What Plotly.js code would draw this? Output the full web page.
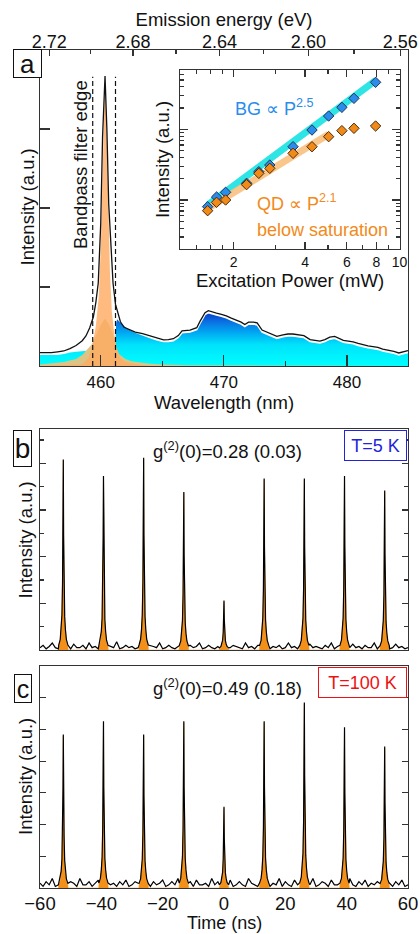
<!DOCTYPE html>
<html><head><meta charset="utf-8">
<script src="https://cdn.plot.ly/plotly-3.0.1.min.js"></script>
<style>html,body{margin:0;padding:0;background:#fff}#chart{width:420px;height:934px}</style>
</head><body><div id="chart"></div>
<script>
// ---------- Panel a: spectrum ----------
const wlRange = [455.07, 484.95];
const wlBG = [455.07,455.5,456,456.5,457,457.5,458,458.5,459,459.3,460,461.1,461.2,461.3,461.6,462.2,462.8,463.4,464.0,464.6,465.1,465.5,465.9,466.3,466.6,467.25,467.8,468.06,468.47,468.74,469.0,469.4,469.8,470.2,470.6,471.0,471.4,471.7,472.0,472.4,472.7,473.1,473.75,474.3,474.8,475.2,475.6,476.0,476.5,477.0,477.4,477.8,478.2,478.6,479.0,479.3,479.7,480.1,480.5,480.9,481.3,481.7,482.1,482.5,482.9,483.3,483.8,484.2,484.6,484.95];
const bgVal = [0.15,0.15,0.15,0.15,0.16,0.18,0.19,0.20,0.21,0.21,0.20,0.20,0.55,0.61,0.56,0.48,0.43,0.39,0.36,0.33,0.31,0.31,0.32,0.36,0.42,0.43,0.46,0.54,0.65,0.675,0.66,0.645,0.63,0.61,0.58,0.56,0.53,0.50,0.53,0.53,0.52,0.43,0.39,0.35,0.37,0.38,0.38,0.37,0.36,0.31,0.30,0.29,0.31,0.34,0.35,0.33,0.30,0.29,0.28,0.26,0.24,0.23,0.22,0.21,0.19,0.18,0.16,0.14,0.16,0.17];
const wlTot = [455.07,455.5,456,456.5,457,457.5,458,458.5,458.8,459.1,459.4,459.6,459.8,460.0,460.15,460.35,460.5,460.65,460.85,461.0,461.2,461.4,461.6,461.9,462.3,462.8,463.4,464.0,464.6,465.1,
  465.5,465.9,466.3,466.6,467.25,467.8,468.06,468.47,468.74,469.0,469.4,469.8,470.2,470.6,471.0,471.4,471.7,472.0,472.4,472.7,473.1,473.75,474.3,474.8,475.2,475.6,476.0,476.5,477.0,477.4,477.8,478.2,478.6,479.0,479.3,479.7,480.1,480.5,480.9,481.3,481.7,482.1,482.5,482.9,483.3,483.8,484.2,484.6,484.95];
const totVal = [0.17,0.17,0.17,0.18,0.19,0.22,0.26,0.32,0.38,0.48,0.62,0.80,1.05,1.8,2.9,3.67,3.0,2.05,1.4,1.05,0.78,0.66,0.56,0.49,0.46,0.43,0.41,0.38,0.35,0.33,
  0.335,0.345,0.385,0.445,0.455,0.485,0.565,0.675,0.70,0.685,0.67,0.655,0.635,0.605,0.585,0.555,0.525,0.555,0.555,0.545,0.455,0.415,0.375,0.395,0.405,0.405,0.395,0.385,0.335,0.325,0.315,0.335,0.365,0.375,0.355,0.325,0.315,0.305,0.285,0.265,0.255,0.245,0.235,0.215,0.205,0.185,0.165,0.185,0.195];
const wlTan = [455.07,456,457,457.5,458,458.5,459,459.3,459.6,460.0,460.35,460.7,461.0,461.2,461.5,462,462.5,463,464,465,467,484.95];
const tanVal = [0.02,0.03,0.05,0.07,0.09,0.14,0.22,0.28,0.38,0.52,0.6,0.52,0.4,0.25,0.15,0.09,0.06,0.05,0.03,0.02,0.01,0];
const wlQD = [455.07,458.5,459.0,459.3,459.6,459.85,460.0,460.15,460.3,460.35,460.45,460.6,460.75,460.9,461.1,461.3,461.6,462,463,464,484.95];
const qdVal = [0,0.02,0.1,0.25,0.5,0.9,1.5,2.6,3.55,3.63,3.2,2.2,1.2,0.7,0.4,0.22,0.1,0.05,0.02,0,0];
const filterEdges = [459.35, 461.2];
const filterTop = 3.66;
const energyTicks = [2.72, 2.68, 2.64, 2.60, 2.56];
const energyMinor = [2.70, 2.66, 2.62, 2.58];

// ---------- Panel a inset: power dependence ----------
const powerMW = [1.556,1.697,1.852,2.27,2.556,2.843,3.562,4.28,5.03,5.72,6.43,7.93];
const bgInt = [0.804,1.102,1.285,1.722,2.512,3.126,5.675,9.772,15.42,20.46,27.42,46.24];
const qdInt = [0.706,0.927,1.0,1.648,2.382,2.805,4.571,5.675,7.870,9.572,10.33,11.14];
const bgFitP = [1.556, 7.93], bgFitI = [0.851, 49.0];
const qdFitP = [1.556, 5.03], qdFitI = [0.76, 8.5];

// ---------- Panels b, c: g2 histograms ----------
const peakCenters = [-52.4,-39.3,-26.2,-13.1,0,13.1,26.2,39.3,52.4];
const peakHeightsB = [8.12,7.41,8.19,6.72,2.07,7.3,7.3,7.41,6.79];
const peakHeightsC = [4.79,5.21,4.79,5.21,2.51,5.21,5.80,5.02,4.41];
const profOffset = [-1.5,-1,-0.7,-0.45,-0.25,-0.1,0,0.1,0.25,0.45,0.7,1,1.5];
const profRel = [0.02,0.05,0.1,0.18,0.35,0.65,1,0.6,0.33,0.17,0.1,0.05,0.02];
const noiseStart = -60; // ns, 1 ns bins
const noiseB = [0.1,0.2,0.05,0.15,0.3,0.1,0.05,0.2,0.1,0.15,0.05,0.25,0.1,0.1,0.2,0.05,0.3,0.1,0.15,0.05,
0.2,0.1,0.05,0.15,0.1,0.35,0.05,0.1,0.2,0.1,0.15,0.05,0.1,0.25,0.1,0.05,0.2,0.15,0.1,0.3,
0.05,0.1,0.2,0.1,0.05,0.15,0.25,0.1,0.05,0.2,0.1,0.15,0.3,0.05,0.1,0.2,0.1,0.05,0.15,0.1,
0.25,0.05,0.1,0.2,0.15,0.1,0.05,0.3,0.1,0.15,0.05,0.2,0.1,0.1,0.25,0.05,0.15,0.1,0.2,0.05,
0.1,0.3,0.1,0.15,0.05,0.2,0.1,0.05,0.25,0.1,0.15,0.1,0.05,0.2,0.1,0.3,0.05,0.15,0.1,0.2,
0.05,0.1,0.25,0.1,0.15,0.05,0.2,0.1,0.1,0.3,0.05,0.15,0.1,0.2,0.05,0.1,0.25,0.1,0.15,0.05,0.1];
const noiseC = [0.15,0.05,0.2,0.1,0.3,0.05,0.1,0.25,0.1,0.05,0.2,0.15,0.05,0.3,0.1,0.1,0.2,0.05,0.15,0.25,
0.1,0.05,0.3,0.1,0.15,0.05,0.2,0.1,0.25,0.05,0.1,0.2,0.15,0.05,0.3,0.1,0.05,0.2,0.1,0.15,
0.25,0.05,0.1,0.2,0.1,0.3,0.05,0.15,0.1,0.2,0.05,0.25,0.1,0.1,0.15,0.05,0.3,0.1,0.2,0.05,
0.1,0.15,0.25,0.05,0.1,0.2,0.1,0.05,0.3,0.15,0.1,0.05,0.2,0.25,0.1,0.05,0.15,0.1,0.3,0.05,
0.2,0.1,0.05,0.25,0.1,0.15,0.05,0.2,0.1,0.3,0.05,0.1,0.2,0.15,0.05,0.25,0.1,0.1,0.2,0.05,
0.15,0.3,0.1,0.05,0.2,0.1,0.25,0.05,0.15,0.1,0.2,0.05,0.3,0.1,0.15,0.05,0.2,0.1,0.25,0.05,0.1];

function buildHist(heights, noise) {
  const pts = [];
  noise.forEach((v, i) => {
    const t = noiseStart + i;
    if (!peakCenters.some(c => Math.abs(t - c) < 1.6)) pts.push([t, v]);
  });
  const fit = [];
  peakCenters.forEach((c, k) => {
    fit.push([c + profOffset[0] - 0.05, 0]);
    profOffset.forEach((o, j) => {
      pts.push([c + o, heights[k] * profRel[j] + 0.05]);
      fit.push([c + o, heights[k] * profRel[j]]);
    });
    fit.push([c + profOffset[profOffset.length - 1] + 0.05, 0]);
  });
  pts.sort((a, b) => a[0] - b[0]);
  return {tx: pts.map(p => p[0]), ty: pts.map(p => p[1]), fx: fit.map(p => p[0]), fy: fit.map(p => p[1])};
}
const hB = buildHist(peakHeightsB, noiseB);
const hC = buildHist(peakHeightsC, noiseC);

const FONT = 'Liberation Sans, Arial, sans-serif';
const LC = '#333';
const ORANGE = '#f39019';

const traces = [
  {x: wlBG, y: bgVal, xaxis: 'x', yaxis: 'y', type: 'scatter', mode: 'lines', fill: 'tozeroy',
   line: {color: '#ffffff', width: 1.5},
   fillgradient: {type: 'vertical', start: 0, stop: 0.68,
     colorscale: [[0, '#00ffff'], [0.4, '#00e2fb'], [0.62, '#00a8f2'], [0.82, '#0a72e2'], [1, '#0a38c8']]},
   hoverinfo: 'skip', showlegend: false},
  {x: wlTan, y: tanVal, xaxis: 'x', yaxis: 'y', type: 'scatter', mode: 'lines', fill: 'tozeroy',
   line: {color: 'rgba(0,0,0,0)', width: 0}, fillcolor: '#dcc487', hoverinfo: 'skip', showlegend: false},
  {x: wlQD, y: qdVal, xaxis: 'x', yaxis: 'y', type: 'scatter', mode: 'lines', fill: 'tozeroy',
   line: {color: 'rgba(0,0,0,0)', width: 0}, fillcolor: 'rgba(255,170,95,0.8)', hoverinfo: 'skip', showlegend: false},
  {x: wlTot, y: totVal, xaxis: 'x', yaxis: 'y', type: 'scatter', mode: 'lines',
   line: {color: '#111', width: 1.3}, hoverinfo: 'skip', showlegend: false},
  {x: [filterEdges[0], filterEdges[0], null, filterEdges[1], filterEdges[1]],
   y: [0, filterTop, null, 0, filterTop], xaxis: 'x2', yaxis: 'y', type: 'scatter', mode: 'lines',
   line: {color: '#111', width: 1.2, dash: '5px,3px'}, hoverinfo: 'skip', showlegend: false},
  // inset
  {x: bgFitP, y: bgFitI, xaxis: 'x3', yaxis: 'y3', type: 'scatter', mode: 'lines',
   line: {color: '#2ee4e4', width: 7}, hoverinfo: 'skip', showlegend: false},
  {x: qdFitP, y: qdFitI, xaxis: 'x3', yaxis: 'y3', type: 'scatter', mode: 'lines',
   line: {color: 'rgba(248,192,128,0.9)', width: 7}, hoverinfo: 'skip', showlegend: false},
  {x: powerMW, y: bgInt, xaxis: 'x3', yaxis: 'y3', type: 'scatter', mode: 'markers',
   marker: {symbol: 'diamond', size: 8, color: '#2a8cec', line: {color: '#23364f', width: 1}}, hoverinfo: 'skip', showlegend: false},
  {x: powerMW, y: qdInt, xaxis: 'x3', yaxis: 'y3', type: 'scatter', mode: 'markers',
   marker: {symbol: 'diamond', size: 8, color: '#f28a1a', line: {color: '#4a2a08', width: 1}}, hoverinfo: 'skip', showlegend: false},
  // panel b
  {x: hB.fx, y: hB.fy, xaxis: 'x4', yaxis: 'y4', type: 'scatter', mode: 'lines', fill: 'tozeroy',
   line: {color: ORANGE, width: 0.5}, fillcolor: ORANGE, hoverinfo: 'skip', showlegend: false},
  {x: hB.tx, y: hB.ty, xaxis: 'x4', yaxis: 'y4', type: 'scatter', mode: 'lines',
   line: {color: '#000', width: 1.2}, hoverinfo: 'skip', showlegend: false},
  // panel c
  {x: hC.fx, y: hC.fy, xaxis: 'x5', yaxis: 'y5', type: 'scatter', mode: 'lines', fill: 'tozeroy',
   line: {color: ORANGE, width: 0.5}, fillcolor: ORANGE, hoverinfo: 'skip', showlegend: false},
  {x: hC.tx, y: hC.ty, xaxis: 'x5', yaxis: 'y5', type: 'scatter', mode: 'lines',
   line: {color: '#000', width: 1.2}, hoverinfo: 'skip', showlegend: false}
];

const W = 420, H = 934;
const px = v => v / W, py = v => 1 - v / H;
const AX = {showline: true, linecolor: LC, linewidth: 1.3, tickcolor: LC, tickwidth: 1.2,
  zeroline: false, showgrid: false, ticks: 'inside', automargin: false};
const TF = s => ({family: FONT, size: s, color: '#111'});
const yTitle = (x, y) => ({text: 'Intensity (a.u.)', xref: 'paper', yref: 'paper', x: px(x), y: py(y), textangle: -90,
  xanchor: 'center', yanchor: 'middle', showarrow: false, font: TF(18.5)});

const layout = {
  width: W, height: H, margin: {l: 0, r: 0, t: 0, b: 0},
  paper_bgcolor: '#fff', plot_bgcolor: '#fff', showlegend: false,
  font: {family: FONT, color: '#111'},
  xaxis: Object.assign({}, AX, {domain: [px(40), px(408)], anchor: 'y', range: wlRange,
    tick0: 460, dtick: 10, ticklen: 11, tickfont: TF(17), ticklabelstandoff: 0,
    minor: {dtick: 5, tick0: 455, ticklen: 5, ticks: 'inside', tickcolor: LC},
    title: {text: 'Wavelength (nm)', font: TF(18.5), standoff: 4}}),
  xaxis2: Object.assign({}, AX, {overlaying: 'x', side: 'top', anchor: 'y', range: wlRange,
    tickmode: 'array', tickvals: energyTicks.map(E => 1239.84 / E), ticktext: energyTicks.map(E => E.toFixed(2)),
    ticklen: 6, tickfont: TF(18), ticklabelstandoff: -6,
    minor: {tickmode: 'array', tickvals: energyMinor.map(E => 1239.84 / E), ticklen: 4, ticks: 'inside', tickcolor: LC},
    title: {text: 'Emission energy (eV)', font: TF(18.5), standoff: 0}}),
  yaxis: Object.assign({}, AX, {domain: [py(366), py(50)], anchor: 'x', range: [0, 4], dtick: 1,
    ticklen: 10, showticklabels: false, mirror: true}),
  xaxis3: Object.assign({}, AX, {type: 'log', domain: [px(180), px(400)], anchor: 'y3', range: [0.0756, 1.002],
    tickmode: 'array', tickvals: [2, 4, 6, 8, 10], ticktext: ['2', '4', '6', '8', '10'], ticklen: 7,
    tickfont: TF(14), mirror: 'allticks',
    minor: {tickmode: 'array', tickvals: [1.2, 1.4, 1.6, 1.8, 3, 5, 7, 9], ticklen: 4, ticks: 'inside', tickcolor: LC},
    title: {text: 'Excitation Power (mW)', font: TF(18.5), standoff: 4}}),
  yaxis3: Object.assign({}, AX, {type: 'log', domain: [py(249), py(70)], anchor: 'x3', range: [-0.693, 1.839],
    tickmode: 'array', tickvals: [1, 10], showticklabels: false, ticklen: 8, mirror: 'allticks',
    minor: {tickmode: 'array', tickvals: [0.3,0.4,0.5,0.6,0.7,0.8,0.9,2,3,4,5,6,7,8,9,20,30,40,50,60], ticklen: 4, ticks: 'inside', tickcolor: LC},
    title: {text: 'Intensity (a.u.)', font: TF(18.5), standoff: 4}}),
  xaxis4: Object.assign({}, AX, {domain: [px(40), px(408)], anchor: 'y4', range: [-60, 60], ticks: '',
    showticklabels: false, mirror: true}),
  yaxis4: Object.assign({}, AX, {domain: [py(650), py(429.3)], anchor: 'x4', range: [0, 9.46], tick0: 0, dtick: 2,
    ticklen: 6, showticklabels: false, mirror: 'allticks',
    minor: {dtick: 1, ticklen: 4, ticks: 'inside', tickcolor: LC}}),
  xaxis5: Object.assign({}, AX, {domain: [px(40), px(408)], anchor: 'y5', range: [-60, 60], ticks: '',
    tick0: -60, dtick: 20, tickfont: TF(18.5), mirror: true, ticklabelstandoff: -2}),
  yaxis5: Object.assign({}, AX, {domain: [py(888), py(666)], anchor: 'x5', range: [0, 7.0], dtick: 1,
    ticklen: 6, showticklabels: false, mirror: 'allticks'}),
  annotations: [
    yTitle(26.5, 207),
    yTitle(24.5, 540),
    yTitle(25, 777),
    {text: 'Time (ns)', xref: 'paper', yref: 'paper', x: px(224), y: 0, xanchor: 'center', yanchor: 'bottom',
     showarrow: false, font: TF(18), borderpad: 0},
    {text: 'a', xref: 'paper', yref: 'paper', x: px(27.5), y: py(63.5), xanchor: 'center', yanchor: 'middle',
     showarrow: false, font: TF(26), bordercolor: '#111', borderwidth: 1, borderpad: 0, bgcolor: '#fff', width: 27, height: 27},
    {text: 'b', xref: 'paper', yref: 'paper', x: px(22), y: py(448), xanchor: 'center', yanchor: 'middle',
     showarrow: false, font: TF(28), bordercolor: '#111', borderwidth: 1, borderpad: 0, bgcolor: '#fff', width: 17, height: 35},
    {text: 'c', xref: 'paper', yref: 'paper', x: px(22.5), y: py(688.5), xanchor: 'center', yanchor: 'middle',
     showarrow: false, font: TF(25), bordercolor: '#111', borderwidth: 1, borderpad: 0, bgcolor: '#fff', width: 16, height: 27},
    {text: 'Bandpass filter edge', xref: 'paper', yref: 'paper', x: px(80), y: py(165), textangle: -90,
     xanchor: 'center', yanchor: 'middle', showarrow: false, font: TF(18.5)},
    {text: 'BG \u221d P<sup>2.5</sup>', xref: 'paper', yref: 'paper', x: px(233), y: py(108), xanchor: 'left', yanchor: 'middle',
     showarrow: false, font: {family: FONT, size: 18, color: '#2a8cec'}},
    {text: 'QD \u221d P<sup>2.1</sup>', xref: 'paper', yref: 'paper', x: px(255), y: py(203), xanchor: 'left', yanchor: 'middle',
     showarrow: false, font: {family: FONT, size: 18, color: '#f28a1a'}},
    {text: 'below saturation', xref: 'paper', yref: 'paper', x: px(255), y: py(230), xanchor: 'left', yanchor: 'middle',
     showarrow: false, font: {family: FONT, size: 18, color: '#f28a1a'}},
    {text: 'g<sup>(2)</sup>(0)=0.28 (0.03)', xref: 'paper', yref: 'paper', x: px(227.5), y: py(450), xanchor: 'center', yanchor: 'middle',
     showarrow: false, font: TF(18.5)},
    {text: 'g<sup>(2)</sup>(0)=0.49 (0.18)', xref: 'paper', yref: 'paper', x: px(227.5), y: py(687), xanchor: 'center', yanchor: 'middle',
     showarrow: false, font: TF(18.5)},
    {text: 'T=5 K', xref: 'paper', yref: 'paper', x: px(375.8), y: py(445), xanchor: 'center', yanchor: 'middle',
     showarrow: false, font: {family: FONT, size: 18, color: '#2222dd'}, bordercolor: '#2222dd', borderwidth: 1,
     borderpad: 0, bgcolor: '#fff', width: 61, height: 29},
    {text: 'T=100 K', xref: 'paper', yref: 'paper', x: px(362.5), y: py(682.5), xanchor: 'center', yanchor: 'middle',
     showarrow: false, font: {family: FONT, size: 18, color: '#ee1111'}, bordercolor: '#ee1111', borderwidth: 1,
     borderpad: 0, bgcolor: '#fff', width: 87, height: 29}
  ]
};

Plotly.newPlot('chart', traces, layout, {staticPlot: true, displayModeBar: false});
</script></body></html>
